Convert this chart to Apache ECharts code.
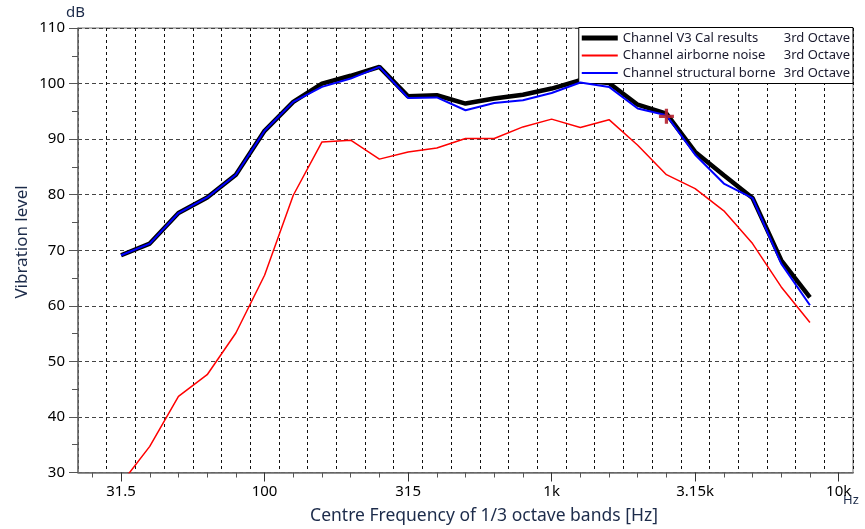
<!DOCTYPE html>
<html>
<head>
<meta charset="utf-8">
<script src="https://cdn.jsdelivr.net/npm/echarts@6/dist/echarts.min.js"></script>
<style>
  html, body { margin: 0; padding: 0; background: #fff; }
  #chart { width: 865px; height: 529px; }
</style>
</head>
<body>
<div id="chart"></div>
<script>
// 1/3 octave band centre frequencies shown on the axis (25 Hz .. 10 kHz)
const bands = ['25', '31.5', '40', '50', '63', '80', '100', '125', '160', '200', '250',
  '315', '400', '500', '630', '800', '1k', '1.25k', '1.6k', '2k', '2.5k', '3.15k',
  '4k', '5k', '6.3k', '8k', '10k'];
// bands that carry a tick label
const labelledBands = ['31.5', '100', '315', '1k', '3.15k', '10k'];
// measured bands (31.5 Hz .. 8 kHz)
const measuredBands = bands.slice(1, 26);

// levels in dB per band
const calResults = [69.1, 71.2, 76.7, 79.5, 83.6, 91.5, 96.7, 100.0, 101.4, 103.0, 97.7, 97.9,
  96.4, 97.3, 98.0, 99.1, 100.6, 100.1, 96.2, 94.6, 87.7, 83.5, 79.4, 68.2, 61.5];
const airborneNoise = [28.0, 34.7, 43.7, 47.6, 55.1, 65.5, 79.9, 89.5, 89.8, 86.4, 87.7, 88.4,
  90.1, 90.1, 92.2, 93.6, 92.1, 93.5, 88.9, 83.6, 81.1, 77.1, 71.2, 63.4, 57.0];
const structuralBorne = [69.1, 71.2, 76.7, 79.5, 83.6, 91.5, 96.7, 99.4, 100.9, 103.0, 97.4, 97.5,
  95.2, 96.5, 97.0, 98.3, 100.2, 99.4, 95.5, 94.3, 87.2, 82.0, 79.4, 67.6, 60.1];

// cursor position
const cursorBand = '2.5k';
const cursorLevel = 94.1;

const seriesNames = ['Channel V3 Cal results', 'Channel airborne noise', 'Channel structural borne'];

const FONT = '"Noto Sans", "Open Sans", sans-serif';
const NAVY = '#1c2b4a';

const pairs = vals => vals.map((v, i) => [measuredBands[i], v]);

const chart = echarts.init(document.getElementById('chart'), null, { renderer: 'canvas' });

const baseX = {
  type: 'category',
  data: bands,
  boundaryGap: true,
  position: 'bottom',
  axisLine: { show: true, lineStyle: { color: '#6e6e6e', width: 1.5 } },
  splitLine: { show: false },
  axisLabel: { show: false },
  axisTick: { show: false }
};

chart.setOption({
  animation: false,
  backgroundColor: '#fff',
  textStyle: { fontFamily: FONT },
  grid: {
    left: 78, right: 12, top: 28, bottom: 56.5,
    show: true, borderColor: '#6e6e6e', borderWidth: 1, backgroundColor: 'transparent'
  },
  xAxis: [
    Object.assign({}, baseX, {
      splitLine: { show: true, interval: 0, lineStyle: { color: '#111', type: [3, 3], width: 1 } },
      axisTick: { show: true, interval: 0, alignWithLabel: true, length: 5, lineStyle: { color: '#555', width: 1 } },
      axisLabel: {
        show: true, interval: 0, margin: 12, fontSize: 15, color: '#000', fontFamily: FONT,
        formatter: v => labelledBands.includes(v) ? v : ''
      }
    }),
    Object.assign({}, baseX, {
      axisLine: { show: false },
      axisTick: {
        show: true, alignWithLabel: true, length: 9, lineStyle: { color: '#333', width: 1 },
        interval: (idx, v) => labelledBands.includes(v)
      }
    })
  ],
  yAxis: {
    type: 'value',
    min: 30, max: 110, interval: 10,
    axisLine: { show: true, lineStyle: { color: '#6e6e6e', width: 1.5 } },
    axisTick: { show: true, length: 9, lineStyle: { color: '#555' } },
    minorTick: { show: true, splitNumber: 2, length: 6, lineStyle: { color: '#555' } },
    axisLabel: { margin: 13, fontSize: 15, color: '#000', fontFamily: FONT },
    splitLine: { show: true, lineStyle: { color: '#444', type: [4, 3], width: 1 } }
  },
  legend: {
    orient: 'vertical',
    right: 12, top: 27.5,
    padding: [4, 3, 4, 3],
    itemGap: 4.5,
    itemWidth: 36, itemHeight: 14,
    backgroundColor: '#fff',
    borderColor: '#000', borderWidth: 1,
    selectedMode: false,
    data: [
      { name: seriesNames[0], icon: 'path://M0,0L36,0L36,5L0,5Z', itemStyle: { color: '#000' } },
      { name: seriesNames[1], icon: 'path://M0,0L36,0L36,2L0,2Z', itemStyle: { color: '#ff0000' } },
      { name: seriesNames[2], icon: 'path://M0,0L36,0L36,2L0,2Z', itemStyle: { color: '#0000ff' } }
    ],
    itemStyle: { borderWidth: 0 },
    textStyle: {
      fontFamily: FONT, fontSize: 13, color: '#1a1a2e',
      rich: {
        n: { width: 161, fontFamily: FONT, fontSize: 13, color: '#1a1a2e' },
        o: { fontFamily: FONT, fontSize: 13, color: '#1a1a2e' }
      }
    },
    formatter: name => '{n|' + name + '}{o|3rd Octave}'
  },
  graphic: [
    { type: 'text', left: 66, top: 5, style: { text: 'dB', font: '15px ' + FONT, fill: NAVY } },
    { type: 'text', left: 843, top: 494, style: { text: 'Hz', font: '13px ' + FONT, fill: NAVY } },
    {
      type: 'text', x: 484, y: 516, style: {
        text: 'Centre Frequency of 1/3 octave bands [Hz]', font: '17.5px ' + FONT, fill: NAVY,
        align: 'center', verticalAlign: 'middle'
      }
    },
    {
      type: 'text', x: 22, y: 242, rotation: Math.PI / 2, style: {
        text: 'Vibration level', font: '17px ' + FONT, fill: NAVY,
        align: 'center', verticalAlign: 'middle'
      }
    }
  ],
  series: [
    {
      name: seriesNames[0], type: 'line', data: pairs(calResults),
      symbol: 'none', lineStyle: { color: '#000', width: 4.5 }, itemStyle: { color: '#000' }, z: 3
    },
    {
      name: seriesNames[1], type: 'line', data: pairs(airborneNoise),
      symbol: 'none', lineStyle: { color: '#ff0000', width: 1.5 }, itemStyle: { color: '#ff0000' }, z: 3
    },
    {
      name: seriesNames[2], type: 'line', data: pairs(structuralBorne),
      symbol: 'none', lineStyle: { color: '#0000ff', width: 2 }, itemStyle: { color: '#0000ff' }, z: 4
    },
    {
      name: 'cursor', type: 'scatter', data: [[cursorBand, cursorLevel]],
      symbol: 'path://M0,5.5L14,5.5L14,8.5L0,8.5Z M5.5,0L8.5,0L8.5,14L5.5,14Z',
      symbolSize: 15, itemStyle: { color: '#b3202c', opacity: 0.9 }, z: 5, silent: true
    }
  ]
});
</script>
</body>
</html>
